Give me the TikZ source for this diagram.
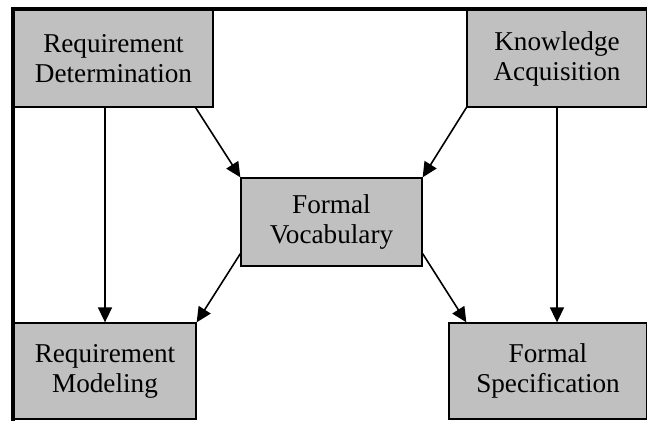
\documentclass[tikz,border=0pt]{standalone}
\usepackage{fontspec}
\setmainfont{Liberation Serif}
\usetikzlibrary{arrows.meta,calc}
\definecolor{boxgray}{HTML}{C0C0C0}
\tikzset{
  box/.style={draw=black, line width=1.3pt, fill=boxgray, inner sep=0pt, align=center,
    font=\fontsize{27.2}{30}\selectfont},
  conn/.style={line width=1.6pt, -{Triangle[length=15pt,width=14pt]}}
}
\begin{document}
\begin{tikzpicture}[x=1pt,y=-1pt]
\useasboundingbox (0,0) rectangle (647,420);
\clip (0,0) rectangle (647,420);
\fill[white] (0,0) rectangle (647,420);
\draw[line width=3.2pt] (13,9) rectangle (680,450);
\node[box, minimum width=199pt, minimum height=97pt] (rd) at (113.5,58.5) {Requirement\\Determination};
\node[box, minimum width=180pt, minimum height=97pt] (ka) at (557,58.5) {Knowledge\\Acquisition};
\node[box, minimum width=181pt, minimum height=88pt] (fv) at (331.5,222) {Formal\\Vocabulary};
\node[box, minimum width=182pt, minimum height=96pt] (rm) at (105,371) {Requirement\\Modeling};
\node[box, minimum width=198pt, minimum height=96pt] (fs) at (548,371) {Formal\\Specification};
\draw[conn] (rd.south -| rm.north) -- (rm.north);
\draw[conn] (ka.south) -- (ka.south |- fs.north);
\draw[conn] ($(rd.south east)+(-18,0)$) -- (fv.north west);
\draw[conn] (ka.south west) -- (fv.north east);
\draw[conn] ($(fv.south west)+(0,-13)$) -- (rm.north east);
\draw[conn] ($(fv.south east)+(0,-13)$) -- ($(fs.north west)+(18,0)$);
\end{tikzpicture}
\end{document}
